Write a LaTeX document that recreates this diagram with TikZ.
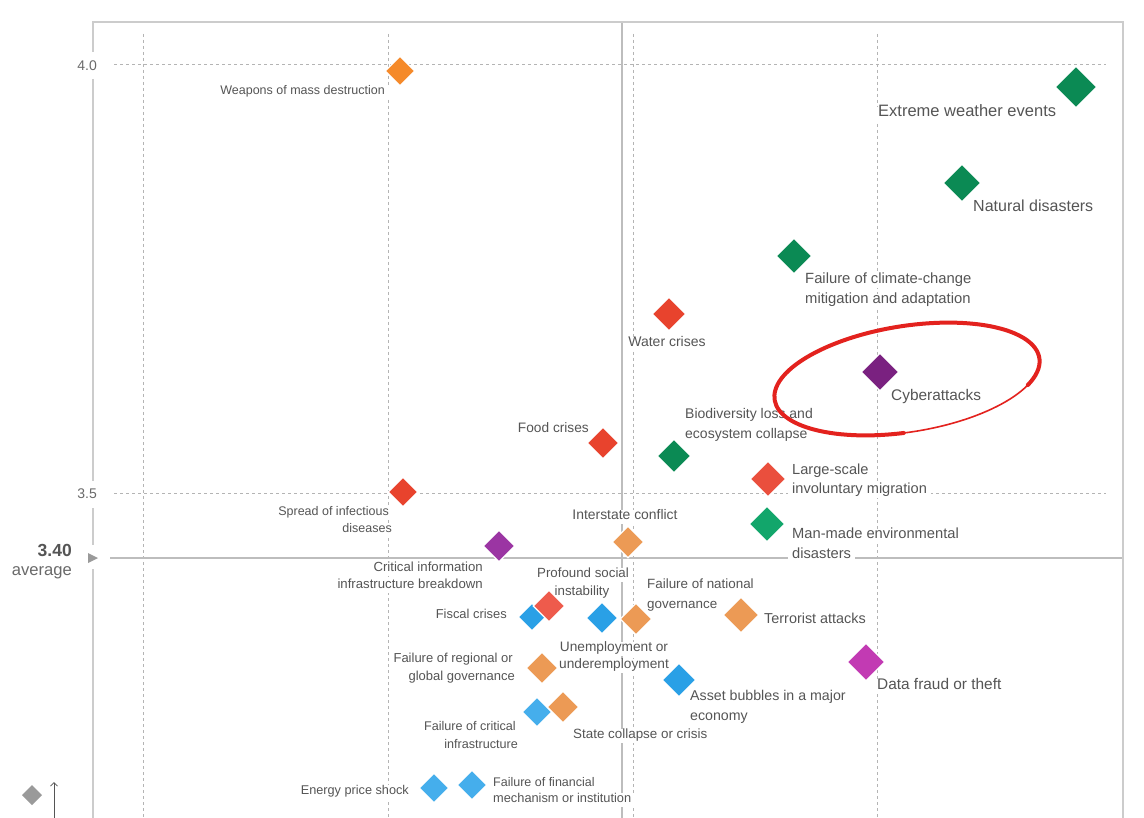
\documentclass[tikz,border=0pt]{standalone}
\usepackage{fontspec}
\setmainfont{Liberation Sans}
\usetikzlibrary{shapes.geometric,arrows.meta}
\definecolor{txt}{HTML}{555555}
\definecolor{axtxt}{HTML}{6A6A6A}
\definecolor{frame}{HTML}{CCCCCC}
\definecolor{solidl}{HTML}{BDBDBD}
\definecolor{dashl}{HTML}{B4B4B4}
\definecolor{dgreen}{HTML}{0B8A54}
\definecolor{mgreen}{HTML}{12A66B}
\definecolor{redA}{HTML}{E8432D}
\definecolor{redB}{HTML}{EA4F3D}
\definecolor{redC}{HTML}{EE5B4C}
\definecolor{orangeA}{HTML}{F58A2A}
\definecolor{orangeB}{HTML}{EC9A55}
\definecolor{blueA}{HTML}{2AA0E6}
\definecolor{blueB}{HTML}{45AEEC}
\definecolor{purpleA}{HTML}{7A2180}
\definecolor{purpleB}{HTML}{9B35A3}
\definecolor{magentaA}{HTML}{C23AB3}
\definecolor{greymark}{HTML}{9A9A9A}
\definecolor{redmark}{HTML}{E3221E}
\newcommand\fs[1]{\fontsize{#1}{#1}\selectfont}
\begin{document}
\begin{tikzpicture}[x=1pt,y=-1pt,
  dia/.style 2 args={diamond, fill=#2, draw=white, line width=1.2pt, minimum size={#1*2pt}, inner sep=0pt},
  lab/.style={fill=white, text=txt, inner xsep=4pt, inner ysep=2pt, text height=0.72em, text depth=0.2em, yshift=-3pt},
  axlab/.style={text=axtxt, inner sep=0pt},
  dashedgrid/.style={dashl, line width=1pt, dash pattern=on 3pt off 3pt},
  solidgrid/.style={solidl, line width=1.3pt},
  frameline/.style={frame, line width=2pt}]
\useasboundingbox (0,0) rectangle (1144,818);
\fill[white] (0,0) rectangle (1144,818);

% dashed grid
\foreach \gx in {143,388,633,877} \draw[dashedgrid] (\gx,34) -- (\gx,818);
\foreach \gy in {65,493} \draw[dashedgrid] (114,\gy) -- (1106,\gy);

% solid lines
\draw[solidgrid] (622,22) -- (622,818);
\draw[solidgrid] (110,558) -- (1123,558);

% frame
\draw[frameline] (93,52) -- (93,22) -- (1123,22) -- (1123,818);
\draw[frameline] (93,79) -- (93,481);
\draw[frameline] (93,508) -- (93,545);
\draw[frameline] (93,569) -- (93,818);

% axis labels
\node[axlab, anchor=east, font=\fs{14}] (t40) at (97,66) {4.0};
\node[axlab, anchor=east, font=\fs{14}] (t35) at (97,494) {3.5};
\node[axlab, anchor=east, font=\bfseries\fs{17.5}, text=txt] (tavg) at (72,550) {3.40};
\node[axlab, anchor=east, font=\fs{16.6}] (tavgw) at (72,573) {average};
\fill[greymark] (88,553) -- (98,558) -- (88,563) -- cycle;

% legend glyphs bottom left
\node[dia={10}{greymark}, line width=0pt, draw=none] (legd) at (32,795) {};
\coordinate (arrS) at (54,818);
\coordinate (arrE) at (54,782);
\draw[txt, line width=0.8pt, -{Straight Barb[length=3.5pt,width=7pt]}] (arrS) -- (arrE);

% labels
\node[lab, anchor=east, font=\fs{12.5}] (lwmd) at (389,89) {Weapons of mass destruction};
\node[lab, anchor=west, font=\fs{16.5}] (lext) at (874,111) {Extreme weather events};
\node[lab, anchor=west, font=\fs{16}] (lnat) at (969,206) {Natural disasters};
\node[lab, anchor=west, font=\fs{14.8}] (lcli1) at (801,278) {Failure of climate-change};
\node[lab, anchor=west, font=\fs{14.8}] (lcli2) at (801,298) {mitigation and adaptation};
\node[lab, anchor=center, font=\fs{14}] (lwat) at (667,341) {Water crises};
\node[lab, anchor=west, font=\fs{15.4}] (lcyb) at (887,395) {Cyberattacks};
\node[lab, anchor=west, font=\fs{14}] (lbio1) at (681,413) {Biodiversity loss and};
\node[lab, anchor=west, font=\fs{14}] (lbio2) at (681,433) {ecosystem collapse};
\node[lab, anchor=east, font=\fs{13.7}] (lfood) at (593,427) {Food crises};
\node[lab, anchor=west, font=\fs{14.6}] (llar1) at (788,469) {Large-scale};
\node[lab, anchor=west, font=\fs{14.6}] (llar2) at (788,488) {involuntary migration};
\node[lab, anchor=east, font=\fs{12.5}] (lspr1) at (393,510) {Spread of infectious};
\node[lab, anchor=east, font=\fs{12.5}] (lspr2) at (396,527) {diseases};
\node[lab, anchor=west, font=\fs{14.7}] (lman1) at (788,533) {Man-made environmental};
\node[lab, anchor=west, font=\fs{14.7}] (lman2) at (788,553) {disasters};
\node[lab, anchor=center, font=\fs{13.9}] (lint) at (625,514) {Interstate conflict};
\node[lab, anchor=east, font=\fs{13.2}] (lcii1) at (487,566) {Critical information};
\node[lab, anchor=east, font=\fs{13.2}] (lcii2) at (487,583) {infrastructure breakdown};
\node[lab, anchor=center, font=\fs{13.3}] (lpro1) at (583,572) {Profound social};
\node[lab, anchor=center, font=\fs{13.3}] (lpro2) at (582,590) {instability};
\node[lab, anchor=west, font=\fs{13.4}] (lnag1) at (643,583) {Failure of national};
\node[lab, anchor=west, font=\fs{13.4}] (lnag2) at (643,603) {governance};
\node[lab, anchor=east, font=\fs{12.9}] (lfis) at (511,613) {Fiscal crises};
\node[lab, anchor=west, font=\fs{14.4}] (lter) at (760,618) {Terrorist attacks};
\node[lab, anchor=center, font=\fs{13.7}] (lune1) at (614,646) {Unemployment or};
\node[lab, anchor=center, font=\fs{13.7}] (lune2) at (614,663) {underemployment};
\node[lab, anchor=east, font=\fs{13}] (lreg1) at (517,657) {Failure of regional or};
\node[lab, anchor=east, font=\fs{13}] (lreg2) at (519,675) {global governance};
\node[lab, anchor=west, font=\fs{15.4}] (ldat) at (873,684) {Data fraud or theft};
\node[lab, anchor=west, font=\fs{14.2}] (lass1) at (686,695) {Asset bubbles in a major};
\node[lab, anchor=west, font=\fs{14.2}] (lass2) at (686,715) {economy};
\node[lab, anchor=east, font=\fs{12.6}] (lcin1) at (520,725) {Failure of critical};
\node[lab, anchor=east, font=\fs{12.6}] (lcin2) at (522,743) {infrastructure};
\node[lab, anchor=west, font=\fs{13.4}] (lsta) at (569,733) {State collapse or crisis};
\node[lab, anchor=east, font=\fs{12.7}] (lene) at (413,789) {Energy price shock};
\node[lab, anchor=west, font=\fs{12.5}] (lfin1) at (489,781) {Failure of financial};
\node[lab, anchor=west, font=\fs{12.8}] (lfin2) at (489,797) {mechanism or institution};

% diamonds
\node[dia={15}{orangeA}] (dwmd) at (400,71) {};
\node[dia={21}{dgreen}] (dext) at (1076,87) {};
\node[dia={19}{dgreen}] (dnat) at (962,183) {};
\node[dia={18}{dgreen}] (dcli) at (794,256) {};
\node[dia={17}{redA}] (dwat) at (669,314) {};
\node[dia={19}{purpleA}] (dcyb) at (880,372) {};
\node[dia={16}{redA}] (dfood) at (603,443) {};
\node[dia={17}{dgreen}] (dbio) at (674,456) {};
\node[dia={18}{redB}] (dlar) at (768,479) {};
\node[dia={15}{redA}] (dspr) at (403,492) {};
\node[dia={18}{mgreen}] (dman) at (767,524) {};
\node[dia={16}{orangeB}] (dint) at (628,542) {};
\node[dia={16}{purpleB}] (dcii) at (499,546) {};
\node[dia={14}{blueA}] (dfis) at (532,617) {};
\node[dia={16}{redC}] (dpro) at (549,606) {};
\node[dia={16}{blueA}] (dune) at (602,618) {};
\node[dia={16}{orangeB}] (dnag) at (636,619) {};
\node[dia={18}{orangeB}] (dter) at (741,615) {};
\node[dia={19}{magentaA}] (ddat) at (866,662) {};
\node[dia={16}{orangeB}] (dreg) at (542,668) {};
\node[dia={17}{blueA}] (dass) at (679,680) {};
\node[dia={15}{blueB}] (dcin) at (537,712) {};
\node[dia={16}{orangeB}] (dsta) at (563,707) {};
\node[dia={15}{blueB}] (dene) at (434,788) {};
\node[dia={15}{blueB}] (dfin) at (472,785) {};

% hand-drawn red ellipse around Cyberattacks
\begin{scope}[shift={(907,379)}, rotate=9]
  \draw[redmark, line width=1.6pt, line cap=round] (-22:134 and 53) arc[start angle=-22, end angle=100, x radius=134, y radius=53];
  \draw[redmark, line width=4pt, line cap=round] (95:134 and 53) arc[start angle=95, end angle=388, x radius=134, y radius=53];
\end{scope}
\end{tikzpicture}
\end{document}
